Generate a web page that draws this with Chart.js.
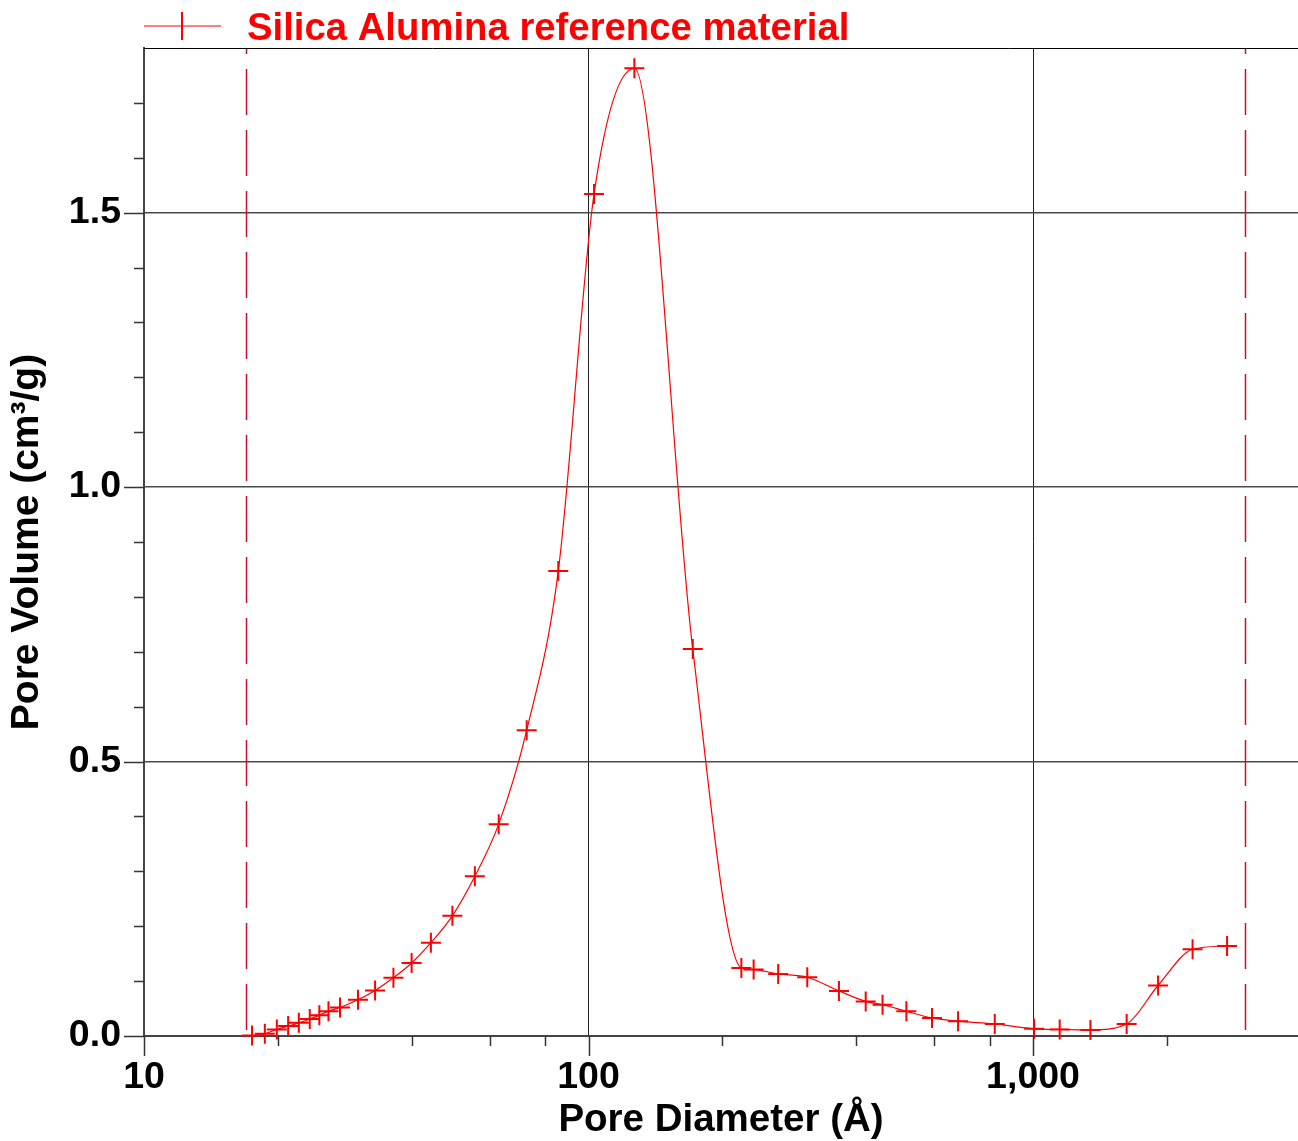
<!DOCTYPE html>
<html>
<head>
<meta charset="utf-8">
<script src="https://cdn.jsdelivr.net/npm/chart.js@4/dist/chart.umd.min.js"></script>
<style>
  html, body { margin: 0; padding: 0; background: #fff; overflow: hidden; }
  canvas { display: block; }
</style>
</head>
<body>
<canvas id="chart" width="1298" height="1141"></canvas>
<script>
// Pore size distribution of the silica-alumina reference material
const seriesLabel = 'Silica Alumina reference material';
const poreDiameter = [17.5, 18.7, 19.9, 21.1, 22.3, 23.6, 24.8, 26.0, 27.6, 30.3,
                      33.1, 36.4, 40.0, 44.2, 49.4, 55.5, 62.8, 72.6, 85.5, 102.9,
                      126.8, 171.6, 220.7, 235.2, 267.1, 310.5, 365.9, 420.3, 458.6, 518.8,
                      592.5, 678.2, 820.1, 1006, 1148, 1346, 1624, 1911, 2285, 2732];
const poreVolume = [0.001, 0.004, 0.012, 0.018, 0.024, 0.031, 0.038, 0.045, 0.052, 0.066,
                    0.083, 0.106, 0.133, 0.170, 0.219, 0.291, 0.386, 0.557, 0.847, 1.534,
                    1.763, 0.705, 0.124, 0.121, 0.113, 0.107, 0.082, 0.063, 0.057, 0.045,
                    0.033, 0.027, 0.022, 0.013, 0.012, 0.011, 0.022, 0.092, 0.158, 0.164];

const xLabelTicks = [10, 100, 1000];
const xMinorTicks = [20, 40, 60, 80, 200, 400, 600, 800, 2000];
const yLabelTicks = [0, 0.5, 1.0, 1.5];
const yMinorTicks = [0.1, 0.2, 0.3, 0.4, 0.6, 0.7, 0.8, 0.9, 1.1, 1.2, 1.3, 1.4, 1.6, 1.7];
const rangeMarkers = [17, 3000];   // analysis range limits (Å)
const xTitle = 'Pore Diameter (Å)';
const yTitle = 'Pore Volume (cm³/g)';

const FONT = "'Liberation Sans', Arial, Helvetica, sans-serif";
const RED = '#ff0000';

// Range markers, tick marks, top frame and the legend entry
const decorations = {
  id: 'decorations',
  beforeDatasetsDraw(chart) {
    const { ctx, chartArea: a, scales: { x } } = chart;
    ctx.save();
    ctx.strokeStyle = '#c8102e';
    ctx.lineWidth = 1.5;
    ctx.setLineDash([46, 15]);
    ctx.lineDashOffset = 40;
    rangeMarkers.forEach(v => {
      const px = Math.round(x.getPixelForValue(v)) + 0.5;
      ctx.beginPath();
      ctx.moveTo(px, a.top);
      ctx.lineTo(px, a.bottom);
      ctx.stroke();
    });
    ctx.restore();
  },
  afterDraw(chart) {
    const { ctx, chartArea: a, scales: { x, y } } = chart;
    ctx.save();
    // top frame
    ctx.strokeStyle = '#000';
    ctx.lineWidth = 1;
    ctx.beginPath();
    ctx.moveTo(a.left, a.top + 0.5);
    ctx.lineTo(a.right, a.top + 0.5);
    ctx.stroke();

    // tick marks
    ctx.strokeStyle = '#333';
    ctx.lineWidth = 1.5;
    const xTick = (v, len) => {
      const px = Math.round(x.getPixelForValue(v)) + 0.5;
      ctx.beginPath(); ctx.moveTo(px, a.bottom); ctx.lineTo(px, a.bottom + len); ctx.stroke();
    };
    const yTick = (v, len) => {
      const py = Math.round(y.getPixelForValue(v)) + 0.5;
      ctx.beginPath(); ctx.moveTo(a.left, py); ctx.lineTo(a.left - len, py); ctx.stroke();
    };
    xLabelTicks.forEach(v => xTick(v, 20));
    xMinorTicks.forEach(v => xTick(v, 10));
    yLabelTicks.forEach(v => yTick(v, 20));
    yMinorTicks.forEach(v => yTick(v, 10));

    // legend entry: line with a cross marker, then the series name
    const ly = 26;
    ctx.strokeStyle = RED;
    ctx.lineWidth = 1.2;
    ctx.beginPath(); ctx.moveTo(144, ly); ctx.lineTo(221, ly); ctx.stroke();
    ctx.lineWidth = 2;
    ctx.beginPath(); ctx.moveTo(182, ly - 14); ctx.lineTo(182, ly + 14); ctx.stroke();
    ctx.fillStyle = RED;
    ctx.font = 'bold 38.3px ' + FONT;
    ctx.textAlign = 'left';
    ctx.textBaseline = 'alphabetic';
    ctx.fillText(chart.data.datasets[0].label, 247, 40);
    ctx.restore();
  }
};

new Chart(document.getElementById('chart'), {
  type: 'line',
  data: {
    datasets: [{
      label: seriesLabel,
      data: poreDiameter.map((d, i) => ({ x: d, y: poreVolume[i] })),
      borderColor: RED,
      backgroundColor: RED,
      borderWidth: 1.2,
      pointStyle: 'cross',
      pointRadius: 10,
      pointBorderWidth: 2,
      pointBorderColor: RED,
      cubicInterpolationMode: 'monotone',
      clip: false
    }]
  },
  options: {
    responsive: false,
    animation: false,
    devicePixelRatio: 1,
    layout: { autoPadding: false, padding: { top: 48, right: 0, bottom: 0, left: 0 } },
    plugins: {
      legend: { display: false },
      tooltip: { enabled: false }
    },
    scales: {
      x: {
        type: 'logarithmic',
        min: 10,
        max: 3945,
        afterFit: s => { s.height = 105; s.paddingLeft = 0; s.paddingRight = 0; },
        afterBuildTicks: s => { s.ticks = xLabelTicks.map(v => ({ value: v, major: true })); },
        border: { color: '#444', width: 2 },
        grid: {
          drawTicks: false,
          color: c => (c.tick && c.tick.value === 10) ? 'rgba(0,0,0,0)' : '#222',
          lineWidth: 1
        },
        ticks: {
          autoSkip: false,
          maxRotation: 0,
          padding: 22.9,
          color: '#000',
          font: { family: FONT, size: 37.5, weight: 'bold', lineHeight: 1 },
          callback: v => Number(v).toLocaleString('en-US')
        },
        title: {
          display: true,
          text: xTitle,
          color: '#000',
          font: { family: FONT, size: 38.5, weight: 'bold', lineHeight: 1 },
          padding: { top: 0, bottom: 1.75 }
        }
      },
      y: {
        type: 'linear',
        min: 0,
        max: 1.8,
        afterFit: s => { s.width = 144; s.paddingTop = 0; s.paddingBottom = 0; },
        afterBuildTicks: s => { s.ticks = yLabelTicks.map(v => ({ value: v })); },
        border: { color: '#444', width: 2 },
        grid: {
          drawTicks: false,
          color: c => (c.tick && c.tick.value === 0) ? 'rgba(0,0,0,0)' : '#4a4a4a',
          lineWidth: 1.5
        },
        ticks: {
          autoSkip: false,
          padding: 23,
          color: '#000',
          font: { family: FONT, size: 37.5, weight: 'bold', lineHeight: 1 },
          callback: v => Number(v).toFixed(1)
        },
        title: {
          display: true,
          text: yTitle,
          color: '#000',
          font: { family: FONT, size: 39, weight: 'bold', lineHeight: 1 },
          padding: { top: 7.7, bottom: 0 }
        }
      }
    }
  },
  plugins: [decorations]
});
</script>
</body>
</html>
